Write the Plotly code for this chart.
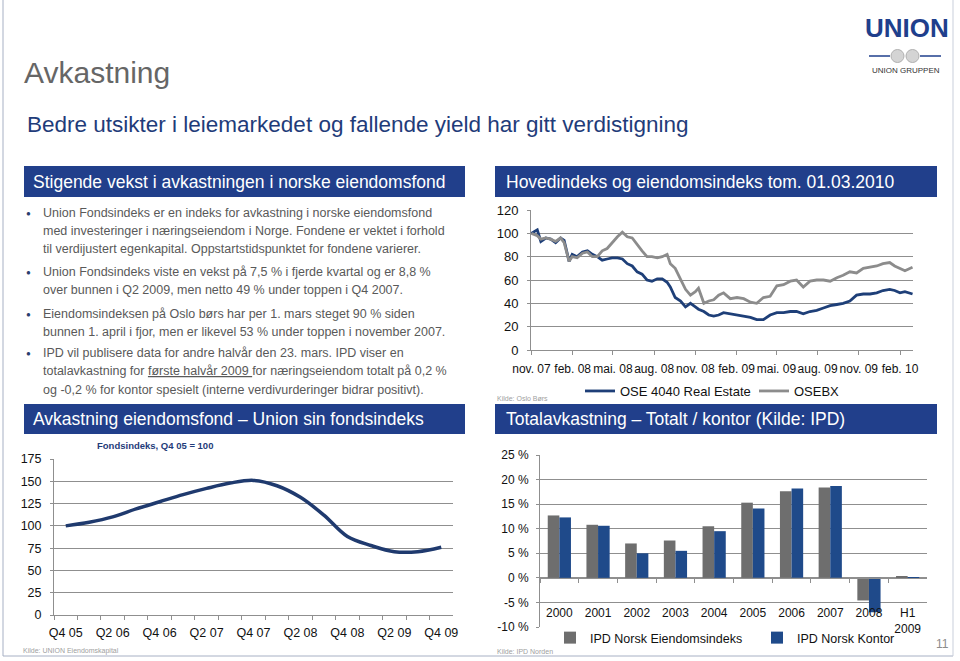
import plotly.graph_objects as go

W, H = 960, 661
FONT = "Liberation Sans, Arial, sans-serif"


def px(x):
    return x / W


def py(y):
    return 1 - y / H


# ---------------- Data: Hovedindeks og eiendomsindeks ----------------
idx_dates = [
    "2007-11-01", "2007-11-14", "2007-11-22", "2007-12-03", "2007-12-14", "2007-12-25",
    "2008-01-05", "2008-01-13", "2008-01-24", "2008-01-31", "2008-02-11", "2008-02-23",
    "2008-03-05", "2008-03-16", "2008-03-27", "2008-04-07", "2008-04-18", "2008-04-29",
    "2008-05-11", "2008-05-22", "2008-06-02", "2008-06-13", "2008-06-24", "2008-07-05",
    "2008-07-16", "2008-07-27", "2008-08-08", "2008-08-19", "2008-08-30", "2008-09-06",
    "2008-09-17", "2008-09-29", "2008-10-10", "2008-10-21", "2008-11-01", "2008-11-08",
    "2008-11-20", "2008-12-01", "2008-12-12", "2008-12-23", "2009-01-03", "2009-01-18",
    "2009-02-02", "2009-02-17", "2009-03-04", "2009-03-18", "2009-04-02", "2009-04-17",
    "2009-05-02", "2009-05-17", "2009-06-01", "2009-06-15", "2009-06-30", "2009-07-15",
    "2009-07-30", "2009-08-14", "2009-08-29", "2009-09-13", "2009-09-27", "2009-10-12",
    "2009-10-27", "2009-11-11", "2009-11-26", "2009-12-11", "2009-12-25", "2010-01-09",
    "2010-01-20", "2010-02-01", "2010-02-12", "2010-03-01",
]
ose4040 = [
    100, 103, 93, 96, 95, 92,
    96, 94, 76, 82, 80, 84,
    85, 82, 80, 77, 78, 79,
    79, 78, 74, 72, 67, 65,
    60, 59, 61, 61, 58, 54,
    45, 42, 37, 40, 37, 35,
    33, 30, 29, 30, 32, 31,
    30, 29, 28, 26, 26, 30,
    32, 32, 33, 33, 31, 33,
    34, 36, 38, 39, 40, 42,
    47, 48, 48, 49, 51, 52,
    51, 49, 50, 48,
]
osebx = [
    100, 98, 95, 96, 95, 93,
    96, 92, 76, 80, 79, 83,
    84, 80, 80, 85, 87, 92,
    97, 101, 97, 96, 90, 85,
    80, 80, 79, 80, 82, 74,
    70, 60, 52, 47, 50, 53,
    40, 42, 43, 47, 49, 44,
    45, 44, 41, 40, 45, 46,
    55, 56, 59, 60, 54, 59,
    60, 60, 59, 62, 64, 67,
    66, 70, 71, 72, 74, 75,
    72, 70, 68, 71,
]
idx_tickvals = ["2007-11-01", "2008-02-01", "2008-05-01", "2008-08-01", "2008-11-01",
                "2009-02-01", "2009-05-01", "2009-08-01", "2009-11-01", "2010-02-01"]
idx_ticktext = ["nov. 07", "feb. 08", "mai. 08", "aug. 08", "nov. 08",
                "feb. 09", "mai. 09", "aug. 09", "nov. 09", "feb. 10"]

# ---------------- Data: Union fondsindeks ----------------
quarters = ["Q4 05", "Q1 06", "Q2 06", "Q3 06", "Q4 06", "Q1 07", "Q2 07", "Q3 07", "Q4 07",
            "Q1 08", "Q2 08", "Q3 08", "Q4 08", "Q1 09", "Q2 09", "Q3 09", "Q4 09"]
fund_index = [100, 104, 110, 119, 127, 135, 142, 148, 151, 145, 132, 112, 88, 78, 71, 71, 76]

# ---------------- Data: IPD totalavkastning ----------------
ipd_years = ["2000", "2001", "2002", "2003", "2004", "2005", "2006", "2007", "2008", "H1 2009"]
ipd_total = [12.7, 10.8, 7.0, 7.6, 10.5, 15.3, 17.6, 18.4, -4.6, 0.2]
ipd_office = [12.3, 10.6, 5.0, 5.5, 9.5, 14.1, 18.2, 18.7, -7.0, -0.2]
ipd_tickvals = [-10, -5, 0, 5, 10, 15, 20, 25]
ipd_ticktext = ["-10 %", "-5 %", "0 %", "5 %", "10 %", "15 %", "20 %", "25 %"]

# ---------------- Colours ----------------
BAR_BLUE = "#213F8B"
LINE_BLUE = "#1E3F78"
LINE_GREY = "#8C8C8C"
GRID = "#8F8F8F"
TEXT_GREY = "#595959"

fig = go.Figure()

fig.add_trace(go.Scatter(x=idx_dates, y=ose4040, mode="lines", name="OSE 4040 Real Estate",
                         line=dict(color=LINE_BLUE, width=2.8), xaxis="x", yaxis="y",
                         legend="legend"))
fig.add_trace(go.Scatter(x=idx_dates, y=osebx, mode="lines", name="OSEBX",
                         line=dict(color=LINE_GREY, width=2.8), xaxis="x", yaxis="y",
                         legend="legend2"))
fig.add_trace(go.Scatter(x=quarters, y=fund_index, mode="lines", name="Fondsindeks",
                         line=dict(color="#1F3A6E", width=3.5, shape="spline", smoothing=1.0),
                         xaxis="x2", yaxis="y2", showlegend=False))
fig.add_trace(go.Bar(x=ipd_years, y=ipd_total, name="IPD Norsk Eiendomsindeks",
                     marker=dict(color="#6E6E6E"), xaxis="x3", yaxis="y3", legend="legend3"))
fig.add_trace(go.Bar(x=ipd_years, y=ipd_office, name="IPD Norsk Kontor",
                     marker=dict(color="#1F4A8A"), xaxis="x3", yaxis="y3", legend="legend4"))

tick_font = dict(family=FONT, size=12, color="#111111")

y3_dom = [py(627), py(455)]
y3_rng = [-10, 25]
x3_pos = y3_dom[0] + (0 - y3_rng[0]) / (y3_rng[1] - y3_rng[0]) * (y3_dom[1] - y3_dom[0])

common = dict(automargin=False, zeroline=False, tickcolor=GRID, linecolor=GRID)

fig.update_layout(
    template="none",
    width=W, height=H,
    margin=dict(l=0, r=0, t=0, b=0, pad=0),
    paper_bgcolor="white", plot_bgcolor="white",
    font=dict(family=FONT, color="#111111"),
    barmode="group", bargap=0.4, bargroupgap=0.0,
    xaxis=dict(domain=[px(531), px(913)], anchor="y", type="date",
               range=["2007-10-31", "2010-03-02"],
               tickmode="array", tickvals=idx_tickvals, ticktext=idx_ticktext, tickangle=0,
               ticks="outside", ticklen=4, showline=True, linewidth=1.2, showgrid=False,
               tickfont=tick_font, ticklabelstandoff=3, **common),
    yaxis=dict(domain=[py(350), py(210)], anchor="x", range=[0, 120], dtick=20,
               showgrid=True, gridcolor=GRID, gridwidth=1.2, showline=True,
               ticks="outside", ticklen=3,
               tickfont=dict(family=FONT, size=13, color="#111111"), ticklabelstandoff=6,
               **common),
    xaxis2=dict(domain=[px(54), px(453)], anchor="y2", type="category",
                categoryorder="array", categoryarray=quarters, range=[-0.5, 16.5],
                tickmode="array", tickvals=quarters, tickangle=0,
                ticktext=[q if i % 2 == 0 else "" for i, q in enumerate(quarters)],
                tickson="boundaries", ticks="outside", ticklen=4,
                showline=True, linewidth=1.2, showgrid=False,
                tickfont=dict(family=FONT, size=12.5, color="#111111"), ticklabelstandoff=6,
                **common),
    yaxis2=dict(domain=[py(615), py(459)], anchor="x2", range=[0, 175], dtick=25,
                showgrid=True, gridcolor=GRID, gridwidth=1.2, showline=True,
                ticks="outside", ticklen=3,
                tickfont=dict(family=FONT, size=12.5, color="#111111"), ticklabelstandoff=6,
                **common),
    xaxis3=dict(domain=[px(540), px(927)], anchor="free", position=x3_pos, type="category",
                tickmode="array", tickvals=ipd_years, tickangle=0,
                ticktext=[y.replace(" ", "<br>") for y in ipd_years],
                tickson="boundaries", ticks="outside", ticklen=4,
                showline=True, linewidth=1.2, showgrid=False,
                tickfont=tick_font, ticklabelstandoff=24, **common),
    yaxis3=dict(domain=y3_dom, anchor="x3", range=y3_rng, tickmode="array",
                tickvals=ipd_tickvals, ticktext=ipd_ticktext,
                showgrid=True, gridcolor=GRID, gridwidth=1.2, showline=True,
                ticks="outside", ticklen=3,
                tickfont=tick_font, ticklabelstandoff=5, **common),
    legend=dict(x=px(580), y=py(391), xanchor="left", yanchor="middle",
                bgcolor="rgba(0,0,0,0)", font=dict(family=FONT, size=13, color="#111111"),
                itemwidth=30),
    legend2=dict(x=px(754), y=py(391), xanchor="left", yanchor="middle",
                 bgcolor="rgba(0,0,0,0)", font=dict(family=FONT, size=13, color="#111111"),
                 itemwidth=30),
    legend3=dict(x=px(550), y=py(638), xanchor="left", yanchor="middle",
                 bgcolor="rgba(0,0,0,0)", font=dict(family=FONT, size=12.5, color="#111111"),
                 itemwidth=30),
    legend4=dict(x=px(757), y=py(638), xanchor="left", yanchor="middle",
                 bgcolor="rgba(0,0,0,0)", font=dict(family=FONT, size=12.5, color="#111111"),
                 itemwidth=30),
)

shapes = []
annotations = []


def rect(x0, y0, x1, y1, color):
    shapes.append(dict(type="rect", xref="paper", yref="paper", x0=px(x0), x1=px(x1),
                       y0=py(y1), y1=py(y0), fillcolor=color, line=dict(width=0), layer="below"))


def line(x0, y0, x1, y1, color, width=1):
    shapes.append(dict(type="line", xref="paper", yref="paper", x0=px(x0), x1=px(x1),
                       y0=py(y0), y1=py(y1), line=dict(color=color, width=width)))


def txt(x, y, s, size, color, anchor="left", family=FONT):
    annotations.append(dict(x=px(x), y=py(y), xref="paper", yref="paper", text=s,
                            showarrow=False, xanchor=anchor, yanchor="middle",
                            borderpad=0,
                            font=dict(family=family, size=size, color=color)))


# slide frame
line(3, 0, 3, 656, "#A7B0C4", 1)
line(3, 656, 953, 656, "#A7B0C4", 1)
line(953, 0, 953, 656, "#C9CFDB", 1)

# titles
txt(23, 73, "Avkastning", 30, "#666666")
txt(26, 124, "Bedre utsikter i leiemarkedet og fallende yield har gitt verdistigning", 22.5, "#1F3C7A")

# logo
txt(907, 28, "<b>UNION</b>", 26, "#1F3F8C", anchor="center")
line(869, 56, 890, 56, "#1F3F8C", 1.5)
line(920, 56, 941, 56, "#1F3F8C", 1.5)
shapes.append(dict(type="circle", xref="paper", yref="paper", x0=px(891), x1=px(904),
                   y0=py(62.5), y1=py(49.5), fillcolor="#D4D4D4", line=dict(color="#B0B0B0", width=1)))
shapes.append(dict(type="circle", xref="paper", yref="paper", x0=px(906), x1=px(919),
                   y0=py(62.5), y1=py(49.5), fillcolor="#D4D4D4", line=dict(color="#B0B0B0", width=1)))
txt(906, 71, "UNION GRUPPEN", 8, "#333333", anchor="center")

# header bars
rect(24, 166, 465, 197, BAR_BLUE)
rect(24, 404, 465, 434, BAR_BLUE)
rect(495, 166, 937, 197, BAR_BLUE)
rect(495, 404, 937, 434, BAR_BLUE)
txt(32, 182, "Stigende vekst i avkastningen i norske eiendomsfond", 17.5, "white")
txt(32, 419, "Avkastning eiendomsfond \u2013 Union sin fondsindeks", 17.5, "white")
txt(505, 182, "Hovedindeks og eiendomsindeks tom. 01.03.2010", 17.5, "white")
txt(505, 419, "Totalavkastning \u2013 Totalt / kontor (Kilde: IPD)", 17.5, "white")

# bullets
bullets = [
    ([213, 231, 249], ["Union Fondsindeks er en indeks for avkastning i norske eiendomsfond",
                       "med investeringer i næringseiendom i Norge. Fondene er vektet i forhold",
                       "til verdijustert egenkapital. Oppstartstidspunktet for fondene varierer."]),
    ([272, 290], ["Union Fondsindeks viste en vekst på 7,5 % i fjerde kvartal og er 8,8 %",
                  "over bunnen i Q2 2009, men netto 49 % under toppen i Q4 2007."]),
    ([314, 332], ["Eiendomsindeksen på Oslo børs har per 1. mars steget 90 % siden",
                  "bunnen 1. april i fjor, men er likevel 53 % under toppen i november 2007."]),
    ([353, 371, 390], ["IPD vil publisere data for andre halvår den 23. mars. IPD viser en",
                       "totalavkastning for <u>første halvår 2009 </u>for næringseiendom totalt på 0,2 %",
                       "og -0,2 % for kontor spesielt (interne verdivurderinger bidrar positivt)."]),
]
for ys, lines in bullets:
    txt(25, ys[0], "\u25cf", 8, "#2A3F6E")
    for yy, s in zip(ys, lines):
        txt(42, yy, s, 12.5, TEXT_GREY)

# chart notes
txt(155, 445, "<b>Fondsindeks, Q4 05 = 100</b>", 9.5, "#1F3C7A", anchor="center")
txt(496, 398, "Kilde: Oslo Børs", 7, "#A0A0A0")
txt(22, 651, "Kilde: UNION Eiendomskapital", 7, "#A0A0A0")
txt(496, 651, "Kilde: IPD Norden", 7, "#A0A0A0")
txt(942, 644, "11", 12, "#8C8C8C", anchor="center")

fig.update_layout(shapes=shapes, annotations=annotations)
fig.write_html(
    "out.html",
    config={"displayModeBar": False},
    post_script="document.body.style.margin='0px';document.body.style.overflow='hidden';",
)
